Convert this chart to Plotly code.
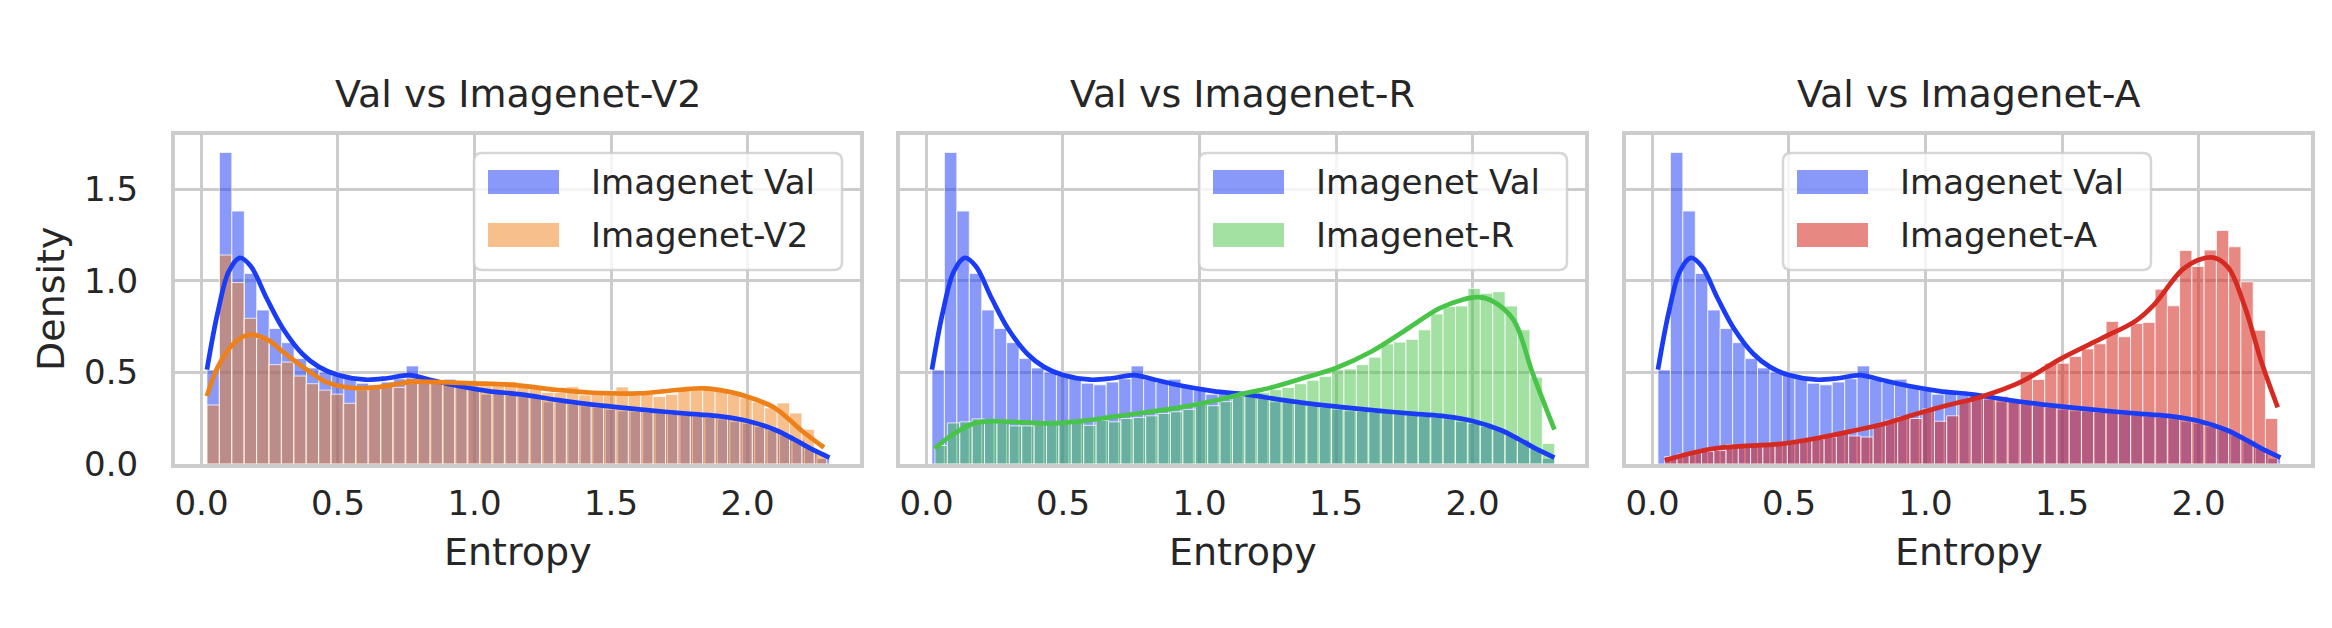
import numpy as np
import plotly.graph_objects as go

# ---------------- data ----------------
panel_titles = ["Val vs Imagenet-V2", "Val vs Imagenet-R", "Val vs Imagenet-A"]
series_names = ["Imagenet Val", "Imagenet-V2", "Imagenet-R", "Imagenet-A"]
x_ticks = [0.0, 0.5, 1.0, 1.5, 2.0]
y_ticks = [0.0, 0.5, 1.0, 1.5]

# histogram bins: first edge and bin width (50 bins each)
val_bin_start, val_bin_width = 0.020, 0.0456
v2_bin_start, v2_bin_width = 0.020, 0.0454
r_bin_start, r_bin_width = 0.031, 0.0454
a_bin_start, a_bin_width = 0.045, 0.0449

val_density = [0.513, 1.70, 1.38, 1.04, 0.84, 0.739, 0.662, 0.575, 0.524, 0.502,
               0.483, 0.466, 0.441, 0.432, 0.447, 0.465, 0.535, 0.46, 0.445, 0.463,
               0.42, 0.404, 0.381, 0.39, 0.377, 0.372, 0.366, 0.339, 0.335, 0.326,
               0.317, 0.308, 0.298, 0.29, 0.287, 0.281, 0.278, 0.272, 0.269, 0.259,
               0.254, 0.246, 0.231, 0.222, 0.204, 0.185, 0.157, 0.13, 0.085, 0.03]
v2_density = [0.322, 1.14, 0.99, 0.795, 0.687, 0.542, 0.556, 0.48, 0.438, 0.403,
              0.381, 0.331, 0.405, 0.418, 0.421, 0.418, 0.469, 0.465, 0.458, 0.45,
              0.445, 0.45, 0.427, 0.436, 0.45, 0.427, 0.427, 0.39, 0.39, 0.421,
              0.377, 0.39, 0.40, 0.42, 0.374, 0.38, 0.368, 0.38, 0.417, 0.417,
              0.413, 0.407, 0.38, 0.361, 0.339, 0.306, 0.333, 0.278, 0.189, 0.065]
r_density = [0.101, 0.224, 0.23, 0.246, 0.23, 0.23, 0.208, 0.208, 0.23, 0.226,
             0.22, 0.23, 0.211, 0.239, 0.23, 0.248, 0.254, 0.263, 0.276, 0.285,
             0.298, 0.336, 0.318, 0.34, 0.368, 0.39, 0.391, 0.406, 0.418, 0.438,
             0.457, 0.478, 0.514, 0.518, 0.542, 0.583, 0.655, 0.665, 0.68, 0.732,
             0.819, 0.859, 0.862, 0.958, 0.931, 0.94, 0.862, 0.732, 0.473, 0.112]
a_density = [0.04, 0.055, 0.064, 0.068, 0.074, 0.105, 0.105, 0.105, 0.105, 0.108,
             0.119, 0.129, 0.134, 0.147, 0.171, 0.153, 0.147, 0.211, 0.239, 0.257,
             0.248, 0.30, 0.233, 0.263, 0.344, 0.358, 0.355, 0.37, 0.35, 0.504,
             0.461, 0.55, 0.55, 0.587, 0.628, 0.656, 0.778, 0.694, 0.767, 0.772,
             0.954, 0.863, 1.165, 1.078, 1.167, 1.274, 1.185, 0.994, 0.73, 0.248]

# KDE curves
val_kde_x = [0.02, 0.06, 0.10, 0.14, 0.18, 0.24, 0.30, 0.37, 0.43, 0.50, 0.60, 0.68,
             0.76, 0.83, 0.93, 1.05, 1.17, 1.30, 1.41, 1.52, 1.66, 1.80, 1.90, 2.00,
             2.10, 2.17, 2.23, 2.30]
val_kde_y = [0.515, 0.83, 1.05, 1.125, 1.08, 0.90, 0.735, 0.60, 0.53, 0.485, 0.46, 0.468,
             0.485, 0.462, 0.428, 0.398, 0.38, 0.35, 0.328, 0.31, 0.29, 0.272, 0.26, 0.235,
             0.187, 0.135, 0.085, 0.035]
v2_kde_x = [0.02, 0.06, 0.12, 0.175, 0.24, 0.30, 0.39, 0.46, 0.55, 0.65, 0.77, 0.90,
            1.00, 1.15, 1.30, 1.42, 1.60, 1.75, 1.84, 1.93, 2.00, 2.10, 2.20, 2.28]
v2_kde_y = [0.37, 0.53, 0.66, 0.705, 0.68, 0.61, 0.51, 0.445, 0.415, 0.42, 0.448, 0.445,
            0.44, 0.43, 0.405, 0.39, 0.385, 0.405, 0.413, 0.395, 0.367, 0.306, 0.18, 0.09]
r_kde_x = [0.03, 0.09, 0.17, 0.23, 0.31, 0.44, 0.56, 0.68, 0.80, 0.93, 1.05, 1.15,
           1.27, 1.39, 1.50, 1.63, 1.75, 1.88, 1.96, 2.02, 2.07, 2.15, 2.22, 2.30]
r_kde_y = [0.085, 0.155, 0.22, 0.233, 0.23, 0.222, 0.233, 0.257, 0.281, 0.309, 0.344, 0.38,
           0.42, 0.473, 0.524, 0.614, 0.726, 0.85, 0.895, 0.91, 0.891, 0.786, 0.496, 0.188]
a_kde_x = [0.045, 0.22, 0.47, 0.60, 0.715, 0.85, 0.96, 1.08, 1.21, 1.35, 1.50, 1.65,
           1.77, 1.84, 1.94, 2.01, 2.06, 2.11, 2.17, 2.23, 2.29]
a_kde_y = [0.02, 0.083, 0.11, 0.14, 0.175, 0.22, 0.27, 0.32, 0.37, 0.448, 0.578, 0.689,
           0.781, 0.874, 1.059, 1.119, 1.124, 1.069, 0.856, 0.559, 0.309]

# ---------------- styling ----------------
W, H = 2332, 628
FONT = "DejaVu Sans"
TXT = "#262626"
GRID = "#cccccc"
line_colors = {"val": "#1a3cf5", "v2": "#ee8019", "r": "#48c448", "a": "#d42a22"}
bar_alpha = {"val": 0.52, "v2": 0.5, "r": 0.5, "a": 0.56}


def rgba(hexc, a):
    h = hexc.lstrip("#")
    return "rgba(%d,%d,%d,%.3f)" % (int(h[0:2], 16), int(h[2:4], 16), int(h[4:6], 16), a)


def px_x(p):
    return p / W


def px_y(p):
    return 1 - p / H


# axes pixel boxes
axes_px = [(167, 852), (892, 1577), (1618, 2303)]
ax_top, ax_bot = 127, 456
x_range = [-0.097, 2.412]
y_range = [0, 1.795]

fig = go.Figure()

panels = [
    ("v2", v2_density, v2_bin_start, v2_bin_width, v2_kde_x, v2_kde_y, series_names[1]),
    ("r", r_density, r_bin_start, r_bin_width, r_kde_x, r_kde_y, series_names[2]),
    ("a", a_density, a_bin_start, a_bin_width, a_kde_x, a_kde_y, series_names[3]),
]


def centers(start, width, n):
    return start + width * (np.arange(n) + 0.5)


for k, (key, dens, bstart, bwidth, kx, ky, name) in enumerate(panels):
    xa = "x" if k == 0 else "x%d" % (k + 1)
    ya = "y" if k == 0 else "y%d" % (k + 1)
    # bars: Val first, then the other set
    fig.add_trace(go.Bar(
        x=centers(val_bin_start, val_bin_width, len(val_density)), y=val_density,
        width=val_bin_width, marker=dict(color=rgba(line_colors["val"], bar_alpha["val"]),
                                         line=dict(color="rgba(255,255,255,0.75)", width=1)),
        name=series_names[0], showlegend=False, xaxis=xa, yaxis=ya))
    fig.add_trace(go.Bar(
        x=centers(bstart, bwidth, len(dens)), y=dens, width=bwidth,
        marker=dict(color=rgba(line_colors[key], bar_alpha[key]),
                    line=dict(color="rgba(255,255,255,0.75)", width=1)),
        name=name, showlegend=False, xaxis=xa, yaxis=ya))
    fig.add_trace(go.Scatter(
        x=val_kde_x, y=val_kde_y, mode="lines",
        line=dict(color=line_colors["val"], width=4.7, shape="spline", smoothing=1.0),
        showlegend=False, hoverinfo="skip", xaxis=xa, yaxis=ya))
    fig.add_trace(go.Scatter(
        x=kx, y=ky, mode="lines",
        line=dict(color=line_colors[key], width=4.7, shape="spline", smoothing=1.0),
        showlegend=False, hoverinfo="skip", xaxis=xa, yaxis=ya))

layout = dict(
    width=W, height=H, margin=dict(l=0, r=0, t=0, b=0),
    paper_bgcolor="white", plot_bgcolor="white", barmode="overlay",
    font=dict(family=FONT, color=TXT, size=34), showlegend=False,
)
axis_common = dict(showgrid=True, gridcolor=GRID, gridwidth=3, zeroline=False,
                   showline=True, linecolor=GRID, linewidth=4, mirror=True,
                   ticks="", tickfont=dict(family=FONT, size=34, color=TXT),
                   automargin=False, fixedrange=True)
for k, (l, r) in enumerate(axes_px):
    sx = "" if k == 0 else str(k + 1)
    layout["xaxis" + sx] = dict(axis_common, domain=[px_x(l), px_x(r)], range=x_range,
                                tickvals=x_ticks, ticktext=["%.1f" % t for t in x_ticks],
                                ticklabelstandoff=6, anchor="y" + sx)
    layout["yaxis" + sx] = dict(axis_common, domain=[px_y(ax_bot), px_y(ax_top)], range=y_range,
                                tickvals=y_ticks, ticktext=["%.1f" % t for t in y_ticks],
                                ticklabelstandoff=26, showticklabels=(k == 0), anchor="x" + sx)
fig.update_layout(**layout)

annotations = []
shapes = []
for k, (l, r) in enumerate(axes_px):
    cx = (l + r) / 2
    annotations.append(dict(text=panel_titles[k], x=px_x(cx), y=px_y(86), xref="paper", yref="paper",
                            xanchor="center", yanchor="middle", showarrow=False,
                            font=dict(family=FONT, size=38, color=TXT)))
    annotations.append(dict(text="Entropy", x=px_x(cx), y=px_y(544), xref="paper", yref="paper",
                            xanchor="center", yanchor="middle", showarrow=False,
                            font=dict(family=FONT, size=38, color=TXT)))
annotations.append(dict(text="Density", x=px_x(43), y=px_y(291), xref="paper", yref="paper",
                        xanchor="center", yanchor="middle", showarrow=False, textangle=-90,
                        font=dict(family=FONT, size=38, color=TXT)))

# legends (matplotlib-style rounded boxes)
legend_left = [466, 1191, 1775]
leg_w, leg_top, leg_bot = 368, 145, 262
rad = 8


def rounded_path(x0, y0, x1, y1, rr):
    pts = [
        ("M", x0 + rr, y0), ("L", x1 - rr, y0), ("Q", x1, y0, x1, y0 + rr),
        ("L", x1, y1 - rr), ("Q", x1, y1, x1 - rr, y1), ("L", x0 + rr, y1),
        ("Q", x0, y1, x0, y1 - rr), ("L", x0, y0 + rr), ("Q", x0, y0, x0 + rr, y0),
    ]
    s = ""
    for p in pts:
        if p[0] == "Q":
            s += "Q%.5f,%.5f %.5f,%.5f " % (px_x(p[1]), px_y(p[2]), px_x(p[3]), px_y(p[4]))
        else:
            s += "%s%.5f,%.5f " % (p[0], px_x(p[1]), px_y(p[2]))
    return s + "Z"


for k, (key, *_rest) in enumerate(panels):
    name = panels[k][6]
    x0 = legend_left[k]
    shapes.append(dict(type="path", path=rounded_path(x0, leg_top, x0 + leg_w, leg_bot, rad),
                       xref="paper", yref="paper", layer="above",
                       fillcolor="rgba(255,255,255,0.8)", line=dict(color="rgba(204,204,204,0.8)", width=2.5)))
    for j, (ck, lab) in enumerate([("val", series_names[0]), (key, name)]):
        cy = 174 + 53 * j
        shapes.append(dict(type="rect", xref="paper", yref="paper", layer="above",
                           x0=px_x(x0 + 14), x1=px_x(x0 + 85), y0=px_y(cy - 12), y1=px_y(cy + 12),
                           fillcolor=rgba(line_colors[ck], bar_alpha[ck]), line=dict(width=0)))
        annotations.append(dict(text=lab, x=px_x(x0 + 115), y=px_y(cy), xref="paper", yref="paper",
                                xanchor="left", yanchor="middle", showarrow=False,
                                font=dict(family=FONT, size=34, color=TXT)))

fig.update_layout(annotations=annotations, shapes=shapes)
fig.write_html("out.html")
